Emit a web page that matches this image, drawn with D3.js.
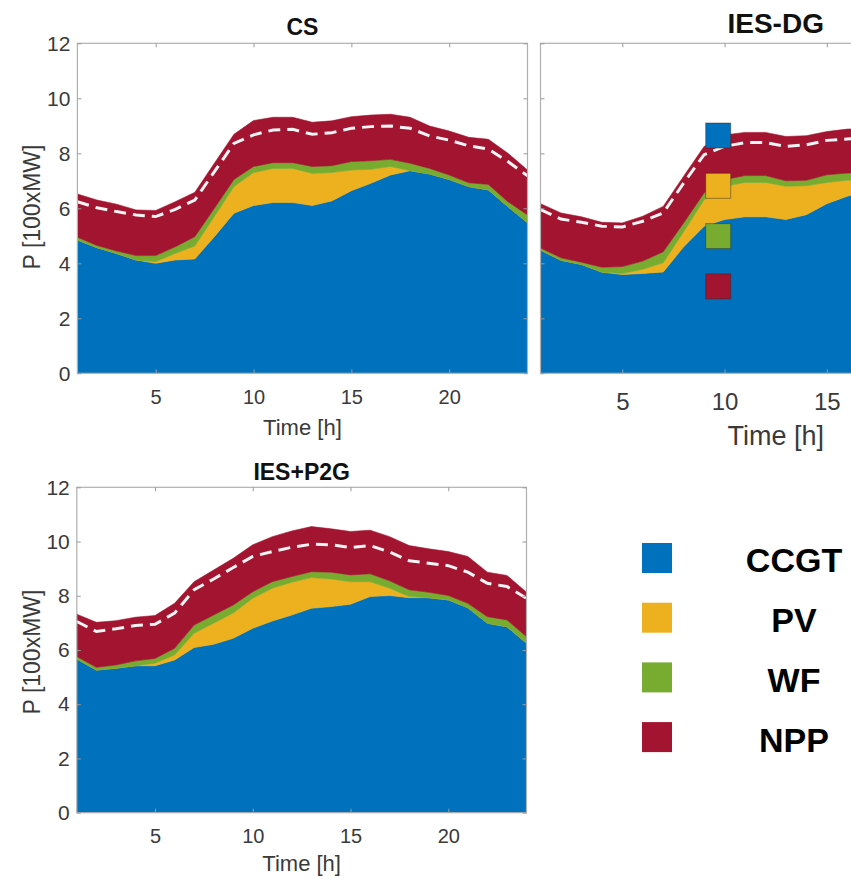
<!DOCTYPE html>
<html><head><meta charset="utf-8">
<script src="https://cdn.jsdelivr.net/npm/d3@7"></script>
<style>
body{margin:0;background:#fff}
svg{display:block}
text{font-family:"Liberation Sans",Arial,Helvetica,sans-serif}
</style>
</head><body>
<svg id="chart" width="851" height="880"></svg>
<script>
// ---------- data ----------
const seriesNames = ["CCGT","PV","WF","NPP"];
const seriesColors = ["#0072BD","#EDB120","#77AC30","#A2142F"];
const yTicks = [0,2,4,6,8,10,12];
const xTicks = [5,10,15,20];
const xTicksDG = [5,10,15];
const panelTitles = ["CS","IES-DG","IES+P2G"];
const xLabel = "Time [h]";
const yLabel = "P [100xMW]";

const csHours = d3.range(1,25);
const csCCGT = [4.85,4.57,4.36,4.12,4.00,4.12,4.16,4.97,5.82,6.10,6.21,6.21,6.10,6.27,6.64,6.91,7.21,7.37,7.25,7.05,6.79,6.67,6.06,5.48];
const csPV   = [0,0,0,0,0.06,0.24,0.47,0.73,0.97,1.20,1.24,1.24,1.17,1.03,0.75,0.51,0.31,0,0,0,0,0,0,0];
const csWF   = [0.10,0.08,0.09,0.16,0.22,0.24,0.34,0.30,0.26,0.22,0.21,0.21,0.25,0.25,0.31,0.31,0.26,0.27,0.20,0.16,0.14,0.20,0.18,0.28];
const csNPP  = [1.57,1.65,1.70,1.66,1.64,1.64,1.61,1.64,1.64,1.67,1.65,1.65,1.61,1.63,1.63,1.66,1.64,1.67,1.54,1.60,1.65,1.64,1.76,1.63];
const csLoad = [6.24,6.02,5.88,5.76,5.70,5.96,6.30,7.33,8.36,8.67,8.85,8.87,8.69,8.75,8.91,8.97,8.99,8.91,8.63,8.48,8.27,8.15,7.70,7.18];

// IES-DG panel is cut off by the picture edge: only hours 1-17 are visible
const dgHours = d3.range(1,18);
const dgCCGT = [4.48,4.11,3.96,3.68,3.59,3.63,3.68,4.60,5.35,5.59,5.69,5.69,5.59,5.77,6.17,6.44,6.65];
const dgPV   = [0,0,0,0,0.04,0.15,0.34,0.55,0.96,1.21,1.25,1.25,1.21,1.05,0.77,0.58,0.40];
const dgWF   = [0.08,0.09,0.08,0.18,0.25,0.30,0.40,0.32,0.25,0.24,0.25,0.25,0.20,0.20,0.28,0.26,0.25];
const dgNPP  = [1.61,1.63,1.65,1.63,1.59,1.63,1.65,1.70,1.69,1.63,1.57,1.57,1.61,1.62,1.57,1.60,1.60];
const dgLoad = [5.95,5.61,5.49,5.35,5.32,5.53,5.83,6.92,7.95,8.25,8.39,8.39,8.25,8.31,8.47,8.52,8.55];

const p2gHours = d3.range(1,25);
const p2gCCGT = [5.67,5.26,5.33,5.42,5.42,5.63,6.09,6.21,6.43,6.80,7.07,7.29,7.54,7.60,7.69,7.97,8.01,7.93,7.93,7.85,7.56,6.99,6.86,6.25];
const p2gPV   = [0,0,0,0,0.09,0.19,0.53,0.78,0.93,1.11,1.21,1.21,1.13,1.02,0.83,0.55,0.27,0.04,0,0,0,0,0,0];
const p2gWF   = [0.09,0.10,0.12,0.18,0.18,0.24,0.30,0.30,0.30,0.24,0.24,0.21,0.22,0.25,0.25,0.29,0.27,0.25,0.20,0.16,0.16,0.24,0.25,0.24];
const p2gNPP  = [1.56,1.66,1.63,1.61,1.58,1.66,1.60,1.66,1.72,1.73,1.66,1.68,1.66,1.60,1.60,1.61,1.63,1.63,1.60,1.62,1.73,1.64,1.64,1.64];
const p2gLoad = [7.05,6.68,6.78,6.90,6.95,7.36,8.22,8.62,9.04,9.45,9.63,9.79,9.90,9.88,9.78,9.85,9.61,9.29,9.20,9.11,8.87,8.46,8.34,7.91];

// ---------- layout ----------
const svg = d3.select("#chart");
const defs = svg.append("defs");

const panels = [
  {id:"cs", title:panelTitles[0], hours:csHours, s:[csCCGT,csPV,csWF,csNPP], load:csLoad, xt:xTicks,
   x0:77.4, x1:527.5, y0:373.3, y1:43.3, tickFs:20, yTickFs:21, yLabels:true, titleFs:23, titleY:35,
   labFs:22, labY:435, tickPad:16.5, ylabX:39.5, ylabY:207},
  {id:"dg", title:panelTitles[1], hours:dgHours, s:[dgCCGT,dgPV,dgWF,dgNPP], load:dgLoad, xt:xTicksDG,
   x0:540.5, x1:1010.9, y0:373.3, y1:43.3, tickFs:24, yTickFs:24, yLabels:false, titleFs:28, titleY:33,
   labFs:27, labY:445, tickPad:19.5},
  {id:"p2g", title:panelTitles[2], hours:p2gHours, s:[p2gCCGT,p2gPV,p2gWF,p2gNPP], load:p2gLoad, xt:xTicks,
   x0:76.8, x1:526.5, y0:812.7, y1:487.3, tickFs:20, yTickFs:21, yLabels:true, titleFs:23, titleY:480,
   labFs:22, labY:871, tickPad:16, ylabX:39.5, ylabY:652}
];

panels.forEach(p => {
  const x = d3.scaleLinear().domain([1,24]).range([p.x0,p.x1]);
  const y = d3.scaleLinear().domain([0,12]).range([p.y0,p.y1]);
  const rows = p.hours.map((h,i) => {
    const r = {h};
    seriesNames.forEach((k,j) => r[k] = p.s[j][i]);
    return r;
  });
  const stacked = d3.stack().keys(seriesNames)(rows);

  defs.append("clipPath").attr("id","clip-"+p.id)
    .append("rect").attr("x",p.x0).attr("y",p.y1)
    .attr("width",p.x1-p.x0).attr("height",p.y0-p.y1);

  const g = svg.append("g");
  const plot = g.append("g").attr("clip-path","url(#clip-"+p.id+")");

  const area = d3.area()
    .x(d => x(d.data.h))
    .y0(d => y(d[0]))
    .y1(d => y(d[1]));

  plot.selectAll("path.layer").data(stacked).join("path")
    .attr("class","layer")
    .attr("d", area)
    .attr("fill", (d,i) => seriesColors[i])
    .attr("stroke", (d,i) => seriesColors[i])
    .attr("stroke-width", 0.6);

  const line = d3.line().x((d,i) => x(p.hours[i])).y(d => y(d));
  plot.append("path")
    .attr("d", line(p.load))
    .attr("fill","none")
    .attr("stroke","#f4f4f4")
    .attr("stroke-width",3)
    .attr("stroke-dasharray","12,7");

  // border box
  g.append("rect").attr("x",p.x0).attr("y",p.y1)
    .attr("width",p.x1-p.x0).attr("height",p.y0-p.y1)
    .attr("fill","none").attr("stroke","#b0b0b0").attr("stroke-width",1.2);

  // axes
  const styleAxis = sel => {
    sel.select(".domain").remove();
    sel.selectAll(".tick line").attr("stroke","#9a9a9a").attr("stroke-width",1);
    sel.selectAll(".tick text").attr("fill","#3a3a3a");
  };
  const bottom = g.append("g").attr("transform","translate(0,"+p.y0+")")
    .call(d3.axisBottom(x).tickValues(p.xt).tickSizeInner(-4).tickSizeOuter(0).tickPadding(p.tickPad))
    .call(styleAxis);
  bottom.selectAll(".tick text").attr("font-size",p.tickFs).attr("font-family",null);
  g.append("g").attr("transform","translate(0,"+p.y1+")")
    .call(d3.axisTop(x).tickValues(p.xt).tickSizeInner(-4).tickSizeOuter(0).tickFormat(""))
    .call(styleAxis);
  const left = g.append("g").attr("transform","translate("+p.x0+",0)")
    .call(d3.axisLeft(y).tickValues(yTicks).tickSizeInner(-4).tickSizeOuter(0).tickPadding(7)
      .tickFormat(p.yLabels ? d3.format("d") : ""))
    .call(styleAxis);
  left.selectAll(".tick text").attr("font-size",p.yTickFs).attr("font-family",null);
  g.append("g").attr("transform","translate("+p.x1+",0)")
    .call(d3.axisRight(y).tickValues(yTicks).tickSizeInner(-4).tickSizeOuter(0).tickFormat(""))
    .call(styleAxis);

  // titles and labels
  const cx = (p.x0+p.x1)/2;
  g.append("text").attr("x",cx).attr("y",p.titleY)
    .attr("text-anchor","middle").attr("font-weight","bold")
    .attr("font-size",p.titleFs).attr("fill","#111").text(p.title);
  g.append("text").attr("x",cx).attr("y",p.labY)
    .attr("text-anchor","middle").attr("font-size",p.labFs).attr("fill","#3a3a3a").text(xLabel);
  if (p.yLabels) {
    g.append("text")
      .attr("transform","translate("+p.ylabX+","+p.ylabY+") rotate(-90)")
      .attr("text-anchor","middle").attr("font-size",23).attr("fill","#3a3a3a").text(yLabel);
  }
});

// stray legend markers over the IES-DG panel
svg.append("g").selectAll("rect").data(seriesColors).join("rect")
  .attr("x",705.7).attr("y",(d,i)=>123+i*50.3)
  .attr("width",25).attr("height",25)
  .attr("fill",d=>d).attr("stroke","rgba(40,40,40,0.45)").attr("stroke-width",1);

// main legend
const leg = svg.append("g");
leg.selectAll("rect").data(seriesNames).join("rect")
  .attr("x",642).attr("y",(d,i)=>543+i*59.7)
  .attr("width",30).attr("height",30)
  .attr("fill",(d,i)=>seriesColors[i]);
leg.selectAll("text").data(seriesNames).join("text")
  .attr("x",794).attr("y",(d,i)=>571.5+i*60)
  .attr("text-anchor","middle").attr("font-weight","bold")
  .attr("font-size",34).attr("fill","#000").text(d=>d);
</script>
</body></html>
